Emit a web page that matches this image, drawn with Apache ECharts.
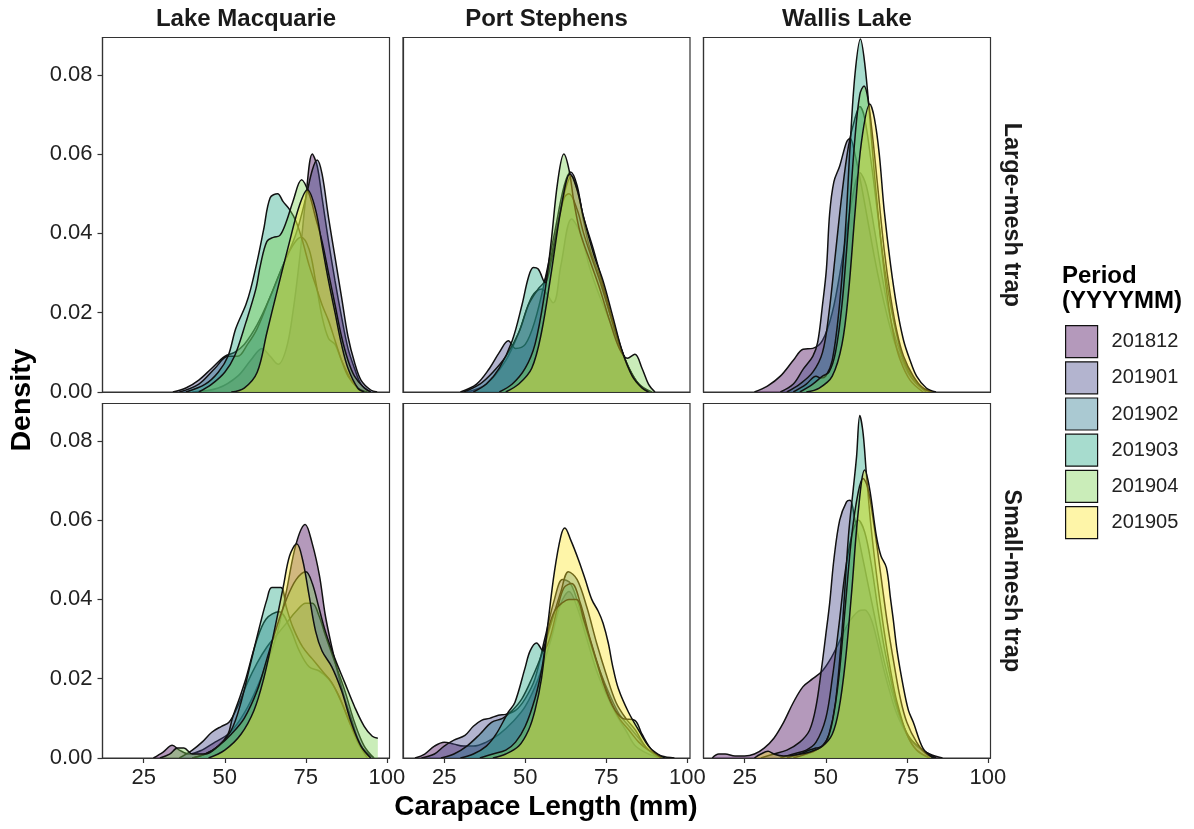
<!DOCTYPE html>
<html>
<head>
<meta charset="utf-8">
<script src="https://cdn.jsdelivr.net/npm/echarts@6/dist/echarts.min.js"></script>
<style>
  html, body { margin: 0; padding: 0; background: #fff; }
  #chart { width: 1194px; height: 829px; }
</style>
</head>
<body>
<div id="chart"></div>
<script>
// facets
const sites = ['Lake Macquarie', 'Port Stephens', 'Wallis Lake'];
const gears = ['Large-mesh trap', 'Small-mesh trap'];
const periods = ['201812', '201901', '201902', '201903', '201904', '201905'];
const xTicks = [25, 50, 75, 100];
const yTicks = [0, 0.02, 0.04, 0.06, 0.08];

// density curves, [carapace length, density], one array per period (same order as periods)
// Lake Macquarie - Large-mesh trap
const lmLarge = [
  [[40,0],[48,0.001],[54,0.004],[58,0.008],[61.5,0.011],[64,0.009],[66.5,0.007],[69,0.011],[71,0.02],[73,0.033],[75,0.049],[77,0.060],[78.5,0.057],[80,0.049],[82,0.038],[84,0.028],[86,0.019],[88,0.011],[90,0.006],[92,0.002],[95,0]],
  [[34,0],[38,0.001],[42,0.003],[46,0.006],[50,0.009],[53,0.010],[56,0.012],[60,0.017],[64,0.024],[68,0.032],[72,0.040],[75,0.049],[77,0.056],[78.5,0.0585],[80,0.055],[82,0.044],[84,0.034],[86,0.024],[88,0.014],[90,0.0075],[92,0.003],[95,0.0005],[97,0]],
  [[36,0],[42,0.002],[47,0.006],[51,0.009],[54,0.009],[57,0.012],[60,0.016],[64,0.024],[68,0.032],[71,0.037],[73.5,0.039],[76,0.036],[78,0.028],[80,0.019],[82,0.0135],[84,0.012],[86,0.008],[89,0.003],[92,0]],
  [[38,0],[44,0.002],[48,0.005],[51,0.009],[53.4,0.016],[56.5,0.022],[58,0.026],[60,0.033],[62,0.041],[64,0.049],[66.3,0.050],[68,0.048],[70,0.046],[72,0.043],[74,0.038],[76,0.032],[78,0.027],[80,0.022],[82,0.018],[84,0.013],[86,0.008],[88,0.004],[91,0.001],[94,0]],
  [[42,0],[46,0.002],[50,0.005],[53,0.009],[56.5,0.0175],[59.6,0.026],[61,0.032],[63,0.038],[65,0.039],[67,0.0395],[69,0.043],[71,0.048],[73.7,0.0535],[76,0.050],[78,0.044],[80,0.038],[82,0.030],[84,0.022],[86,0.014],[88,0.008],[90,0.004],[93,0.001],[95,0]],
  [[52,0],[56,0.001],[60,0.005],[63,0.015],[66,0.025],[70,0.038],[73,0.047],[75.5,0.051],[78,0.046],[80,0.037],[82,0.028],[84,0.020],[86,0.012],[88,0.006],[91,0.001],[93,0]]
];
// Port Stephens - Large-mesh trap
const psLarge = [
  [[32,0],[38,0.002],[44,0.008],[48,0.015],[52,0.024],[55,0.026],[58.6,0.0225],[61,0.032],[64.3,0.0436],[67,0.040],[70,0.031],[73,0.024],[76,0.018],[79,0.012],[82,0.006],[85,0.002],[88,0]],
  [[30,0],[35,0.002],[39,0.006],[42,0.010],[44.8,0.0129],[47,0.011],[50,0.012],[53,0.018],[56,0.028],[59,0.040],[62,0.052],[64,0.0555],[66,0.052],[68,0.043],[70,0.036],[73,0.029],[76,0.020],[79,0.012],[82,0.006],[85,0.002],[89,0]],
  [[31,0],[36,0.002],[40,0.005],[44,0.009],[48,0.015],[51,0.022],[54,0.026],[56,0.028],[59,0.038],[62,0.050],[64.3,0.0545],[66,0.051],[68,0.044],[71,0.036],[74,0.027],[77,0.018],[80,0.010],[83,0.004],[86,0.001],[89,0]],
  [[34,0],[38,0.002],[42,0.006],[46,0.013],[49,0.022],[51,0.029],[52.5,0.0314],[54,0.031],[56.1,0.0276],[58,0.033],[60,0.042],[62,0.049],[63.5,0.050],[66,0.046],[68,0.040],[70,0.035],[73,0.028],[76,0.020],[79,0.012],[82,0.006],[85,0.002],[88,0]],
  [[42,0],[46,0.002],[50,0.006],[53,0.012],[56,0.025],[58,0.038],[60,0.053],[61.9,0.060],[63.5,0.056],[65,0.048],[67,0.040],[70,0.033],[73,0.026],[76,0.018],[79,0.011],[81.5,0.0085],[83.8,0.0095],[86,0.006],[88,0.002],[90,0]],
  [[44,0],[48,0.002],[52,0.006],[55,0.015],[58,0.030],[61,0.046],[63.8,0.055],[66,0.051],[68,0.044],[71,0.035],[74,0.028],[77,0.019],[80,0.010],[83,0.004],[86,0.001],[88,0]]
];
// Wallis Lake - Large-mesh trap
const wlLarge = [
  [[28,0],[32,0.0015],[36,0.004],[40,0.008],[43,0.0108],[46,0.011],[49,0.013],[52,0.020],[55,0.033],[58,0.048],[60.5,0.0553],[62.5,0.052],[65,0.041],[67,0.031],[69,0.022],[71,0.015],[73,0.010],[76,0.005],[79,0.0015],[82,0]],
  [[36,0],[40,0.002],[43,0.0057],[46,0.009],[47.5,0.0125],[49,0.022],[50.2,0.031],[51.2,0.045],[52.5,0.053],[54.3,0.057],[56.4,0.063],[57.5,0.064],[59,0.060],[61,0.052],[63,0.043],[65,0.034],[67,0.026],[69,0.019],[71,0.013],[73,0.009],[76,0.004],[80,0.001],[83,0]],
  [[38,0],[42,0.002],[46,0.005],[49,0.010],[51,0.020],[53,0.035],[55,0.050],[57,0.062],[59,0.069],[60.5,0.072],[62,0.069],[64,0.058],[66,0.045],[68,0.032],[70,0.022],[72,0.014],[74,0.008],[77,0.003],[81,0]],
  [[40,0],[44,0.002],[47,0.004],[48.5,0.0035],[50,0.004],[52,0.008],[54,0.020],[56,0.040],[57.5,0.062],[59,0.080],[60.7,0.089],[62,0.083],[63.5,0.070],[65,0.055],[67,0.038],[69,0.024],[71,0.014],[73,0.008],[76,0.003],[80,0]],
  [[42,0],[46,0.002],[49,0.004],[51,0.005],[53,0.010],[55,0.022],[57,0.042],[59,0.064],[60.5,0.075],[61.8,0.0772],[63,0.074],[64.5,0.064],[66,0.052],[68,0.036],[70,0.024],[72,0.015],[74,0.009],[77,0.004],[80,0.001],[83,0]],
  [[44,0],[48,0.001],[52,0.004],[55,0.012],[57,0.025],[59,0.045],[61,0.063],[63.6,0.0726],[65,0.069],[66.5,0.060],[68,0.046],[70,0.032],[72,0.021],[74,0.013],[76,0.008],[78,0.004],[81,0.001],[84,0]]
];
// Lake Macquarie - Small-mesh trap
const lmSmall = [
  [[28,0],[31,0.0015],[33.8,0.0032],[36,0.002],[39,0.001],[43,0.002],[47,0.004],[51,0.006],[55,0.010],[59,0.016],[63,0.024],[66,0.031],[69,0.042],[72,0.054],[74.8,0.0589],[77,0.054],[79.2,0.046],[81,0.036],[83,0.028],[85,0.021],[87,0.015],[89,0.010],[91,0.005],[93,0.002],[96,0]],
  [[36,0],[40,0.002],[43,0.004],[46,0.0065],[49,0.008],[51.3,0.009],[54,0.013],[57,0.019],[60,0.024],[63,0.028],[66,0.031],[69,0.034],[72,0.037],[75,0.039],[77,0.039],[79,0.036],[81,0.031],[84,0.024],[87,0.017],[90,0.009],[93,0.003],[96,0]],
  [[40,0],[44,0.001],[48,0.003],[51,0.006],[52.3,0.0099],[54.5,0.015],[56.5,0.020],[59.6,0.029],[62.7,0.035],[66.8,0.0369],[70,0.033],[73,0.027],[76,0.023],[79,0.022],[82,0.020],[85,0.016],[88,0.010],[91,0.004],[94,0]],
  [[40,0],[44,0.001],[48,0.003],[52,0.007],[55,0.014],[58,0.024],[61,0.034],[63,0.040],[64.5,0.043],[67.3,0.043],[69,0.038],[71,0.033],[74,0.028],[77,0.025],[80,0.022],[83,0.019],[86,0.014],[89,0.008],[92,0.003],[95,0]],
  [[30,0],[33,0.001],[35.5,0.0025],[37.4,0.0025],[40,0.001],[44,0.001],[48,0.003],[52,0.006],[56,0.010],[60,0.017],[63,0.025],[66,0.033],[69,0.040],[72,0.045],[75,0.047],[77,0.044],[79,0.038],[81,0.032],[84,0.025],[87,0.019],[90,0.013],[93,0.008],[95.5,0.0055],[97.2,0.005]],
  [[45,0],[50,0.002],[55,0.006],[59,0.012],[62,0.020],[65,0.031],[68,0.043],[70,0.051],[72.2,0.054],[74,0.050],[76,0.041],[78,0.032],[80,0.027],[83,0.023],[86,0.017],[89,0.009],[92,0.003],[95,0]]
];
// Port Stephens - Small-mesh trap
const psSmall = [
  [[16,0],[19,0.001],[22,0.003],[25,0.004],[28,0.0035],[31,0.003],[34,0.003],[38,0.004],[42,0.006],[46,0.009],[50,0.013],[54,0.020],[58,0.030],[61,0.039],[63.5,0.042],[66,0.038],[69,0.030],[72,0.022],[75,0.016],[78,0.011],[81,0.007],[84,0.003],[88,0.001],[92,0]],
  [[18,0],[22,0.001],[25,0.003],[28,0.0045],[31.4,0.0057],[34,0.008],[36.5,0.0095],[39,0.010],[41.7,0.0108],[44,0.011],[47,0.012],[50,0.015],[53,0.020],[56,0.030],[59,0.040],[61.5,0.045],[64,0.044],[67,0.037],[70,0.029],[73,0.022],[76,0.016],[79,0.011],[82,0.008],[85,0.005],[88,0.002],[92,0]],
  [[24,0],[28,0.001],[32,0.003],[36,0.006],[39.6,0.009],[43,0.010],[46,0.012],[49,0.015],[52,0.020],[55,0.026],[58,0.034],[61,0.042],[63.3,0.047],[66,0.045],[69,0.038],[72,0.029],[75,0.021],[78,0.014],[81,0.010],[84,0.007],[87,0.003],[91,0]],
  [[30,0],[34,0.001],[38,0.003],[41,0.006],[44.8,0.0116],[46.8,0.014],[49.9,0.0226],[51.5,0.027],[53.5,0.029],[55.5,0.027],[57.5,0.030],[60,0.038],[62,0.043],[64.3,0.044],[67,0.039],[70,0.030],[73,0.022],[76,0.015],[79,0.010],[82,0.007],[85,0.004],[88,0.002],[92,0.0005],[96,0]],
  [[36,0],[40,0.001],[44,0.002],[47,0.004],[50,0.008],[53,0.015],[55,0.022],[57,0.032],[59,0.037],[61.2,0.039],[63.5,0.040],[65.8,0.040],[68,0.035],[71,0.027],[74,0.019],[77,0.013],[80,0.010],[83.8,0.0095],[86,0.006],[89,0.002],[92,0]],
  [[40,0],[44,0.001],[48,0.003],[51,0.007],[53,0.012],[55,0.020],[57,0.034],[59,0.047],[61,0.056],[62.2,0.058],[64,0.055],[66.4,0.050],[68.5,0.045],[70.5,0.040],[72.5,0.037],[74,0.034],[75.6,0.029],[77,0.023],[78.7,0.0175],[81.8,0.0116],[85.9,0.0057],[88,0.003],[90,0.0015],[93,0]]
];
// Wallis Lake - Small-mesh trap
const wlSmall = [
  [[15,0],[17,0.001],[19,0.001],[22,0.0005],[25,0.0005],[28,0.001],[31,0.0025],[34,0.005],[37,0.009],[40,0.014],[43,0.018],[46,0.020],[49,0.022],[51.5,0.025],[54,0.029],[57,0.034],[60,0.037],[62,0.0373],[64,0.035],[66,0.029],[68,0.022],[70,0.016],[72,0.011],[75,0.006],[78,0.003],[82,0.001],[86,0]],
  [[30,0],[34,0.001],[38,0.002],[42,0.004],[45,0.007],[47,0.013],[48.7,0.0226],[50,0.031],[51.2,0.039],[52.5,0.050],[54.3,0.060],[56.4,0.0646],[57.5,0.065],[59,0.060],[61,0.052],[63,0.044],[65,0.036],[67,0.028],[69,0.021],[71,0.015],[73,0.010],[76,0.005],[80,0.002],[84,0]],
  [[36,0],[40,0.001],[44,0.002],[47,0.004],[50,0.010],[52,0.020],[54,0.033],[56,0.047],[58,0.056],[60,0.060],[62,0.057],[64,0.049],[66,0.038],[68,0.028],[70,0.020],[72,0.013],[75,0.006],[78,0.002],[82,0]],
  [[38,0],[42,0.001],[45,0.002],[47,0.0025],[49,0.003],[51,0.006],[53,0.014],[55,0.032],[57,0.056],[58.5,0.068],[59.5,0.076],[60.5,0.0864],[61.5,0.082],[62.5,0.072],[64,0.058],[66,0.044],[68,0.032],[70,0.022],[72,0.014],[75,0.006],[78,0.002],[82,0]],
  [[40,0],[44,0.001],[47,0.002],[50,0.004],[52,0.009],[54,0.020],[56,0.038],[58,0.056],[60,0.067],[61.5,0.0705],[63,0.068],[65,0.058],[67,0.046],[69,0.034],[71,0.024],[73,0.015],[75,0.009],[78,0.004],[81,0.001],[84,0]],
  [[28,0],[30,0.001],[32.2,0.0017],[34,0.001],[37,0.0005],[41,0.0008],[45,0.0015],[49,0.003],[52,0.006],[54,0.012],[56,0.024],[58,0.042],[60,0.062],[62,0.0726],[63.5,0.068],[65.6,0.056],[67,0.051],[68.7,0.048],[70,0.040],[70.8,0.035],[72,0.027],[73.9,0.018],[75.5,0.012],[77,0.009],[80,0.0024],[83,0]]
];

const panels = [
  [lmLarge, psLarge, wlLarge],
  [lmSmall, psSmall, wlSmall]
];

// viridis fills at alpha 0.4
const fills = [
  'rgba(68,1,84,0.4)', 'rgba(65,68,135,0.4)', 'rgba(42,120,142,0.4)',
  'rgba(34,168,132,0.4)', 'rgba(122,209,81,0.4)', 'rgba(253,231,37,0.4)'
];

const colLeft = [102.5, 403, 703.5];
const rowTop = [37.5, 403.5];
const panelW = 287, panelH = 354.5;
const font = 'Liberation Sans, Arial, sans-serif';

const grid = [], xAxis = [], yAxis = [], series = [];
panels.forEach((row, r) => {
  row.forEach((panel, c) => {
    const idx = grid.length;
    grid.push({
      left: colLeft[c], top: rowTop[r], width: panelW, height: panelH,
      show: true, borderColor: '#333', borderWidth: 1.2, backgroundColor: 'transparent'
    });
    xAxis.push({
      type: 'value', gridIndex: idx, min: 12.3, max: 100.8, z: 50,
      splitLine: { show: false },
      axisLine: { show: true, onZero: false, lineStyle: { color: '#333', width: 1.2 } },
      axisTick: { show: r === 1, length: 5, customValues: xTicks, lineStyle: { color: '#333', width: 1.2 } },
      axisLabel: { show: r === 1, customValues: xTicks, margin: 9, fontSize: 22, color: '#222', fontFamily: font }
    });
    yAxis.push({
      type: 'value', gridIndex: idx, min: 0, max: 0.0894, z: 50,
      splitLine: { show: false },
      axisLine: { show: true, onZero: false, lineStyle: { color: '#333', width: 1.2 } },
      axisTick: { show: c === 0, length: 5, customValues: yTicks, lineStyle: { color: '#333', width: 1.2 } },
      axisLabel: {
        show: c === 0, customValues: yTicks, margin: 10, fontSize: 22, color: '#222', fontFamily: font,
        formatter: v => v.toFixed(2)
      }
    });
    panel.forEach((pts, k) => {
      series.push({
        name: periods[k], type: 'line', xAxisIndex: idx, yAxisIndex: idx,
        z: 10 + k, // keep each period's outline under the next period's fill
        data: pts, smooth: 0.35, showSymbol: false, symbol: 'none', silent: true,
        itemStyle: { color: fills[k] },
        lineStyle: { color: '#111', width: 1.5 },
        areaStyle: { color: fills[k], opacity: 1, origin: 'start' }
      });
    });
  });
});

const txt = (text, x, y, size, opts) => Object.assign({
  type: 'text', x: x, y: y, z: 100,
  style: Object.assign({
    text: text, fontSize: size, fontWeight: 'bold', fontFamily: font, fill: '#1a1a1a',
    align: 'center', verticalAlign: 'middle'
  }, (opts && opts.style) || {})
}, opts && opts.rotation !== undefined ? { rotation: opts.rotation } : {});

const graphic = [];
sites.forEach((s, c) => graphic.push(txt(s, colLeft[c] + panelW / 2, 19, 24)));
gears.forEach((g, r) => graphic.push(txt(g, 1011, rowTop[r] + panelH / 2, 23.5, { rotation: -Math.PI / 2 })));
graphic.push(txt('Density', 22, 400, 28.5, { rotation: Math.PI / 2, style: { fill: '#000' } }));
graphic.push(txt('Carapace Length (mm)', 546, 807, 28, { style: { fill: '#000' } }));
graphic.push(txt('Period', 1062, 276, 24, { style: { align: 'left', fill: '#000' } }));
graphic.push(txt('(YYYYMM)', 1062, 301, 24, { style: { align: 'left', fill: '#000' } }));

const chart = echarts.init(document.getElementById('chart'));
chart.setOption({
  backgroundColor: '#fff',
  animation: false,
  grid: grid,
  xAxis: xAxis,
  yAxis: yAxis,
  legend: {
    data: periods, orient: 'vertical', left: 1065, top: 325, padding: 0,
    icon: 'rect', itemWidth: 32, itemHeight: 32, itemGap: 3, selectedMode: false,
    itemStyle: { borderColor: '#111', borderWidth: 1.2 },
    textStyle: { fontSize: 20, color: '#222', fontFamily: font, padding: [0, 0, 0, 9] }
  },
  graphic: graphic,
  series: series
});
</script>
</body>
</html>
